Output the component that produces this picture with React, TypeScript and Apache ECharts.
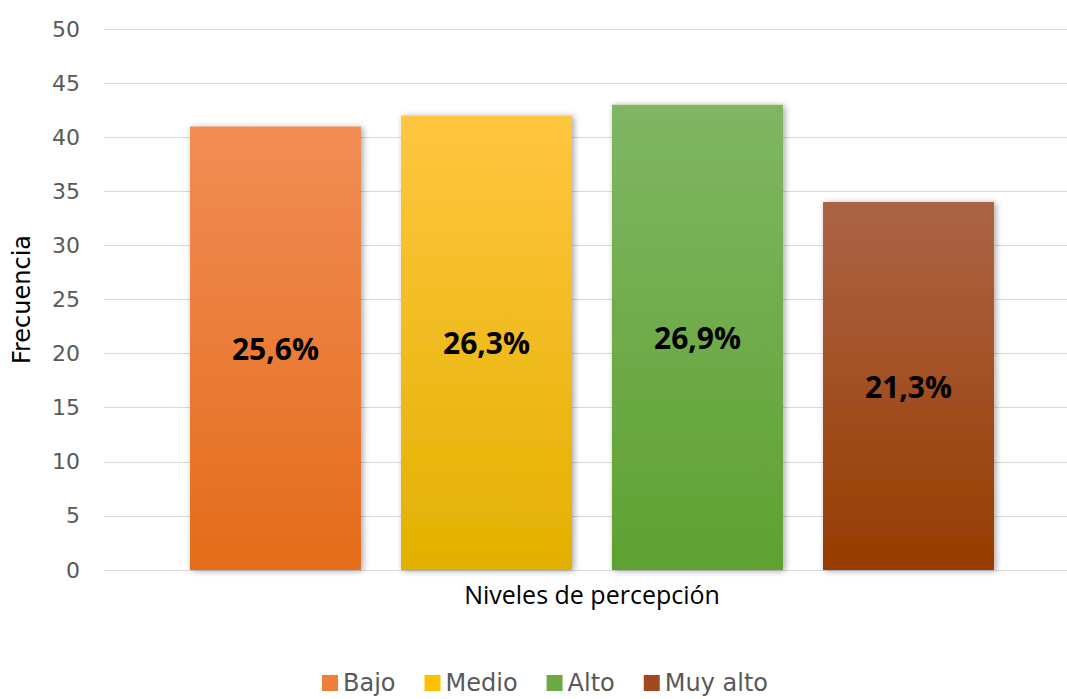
import React, { useEffect, useRef } from "react";
import * as echarts from "echarts";

const categories = ["Niveles de percepción"];
const seriesNames = ["Bajo", "Medio", "Alto", "Muy alto"];
const frequencies = [41, 42, 43, 34];
const percentLabels = ["25,6%", "26,3%", "26,9%", "21,3%"];
const yTicks = { min: 0, max: 50, interval: 5 };
const gradientStops: [string, string][] = [
  ["#F18D55", "#E46C1B"],
  ["#FFC640", "#E2B100"],
  ["#80B663", "#5FA131"],
  ["#AC6446", "#973C00"],
];
const legendColors = ["#F07F3A", "#FFC000", "#6DAA45", "#A24A1E"];

export default function App() {
  const ref = useRef<HTMLDivElement>(null);
  useEffect(() => {
    if (!ref.current) return;
    const chart = echarts.init(ref.current, undefined, { renderer: "svg" });
    const wide = "'DejaVu Sans', sans-serif";
    const narrow = "'Open Sans', 'Noto Sans', sans-serif";
    chart.setOption({
      animation: false,
      backgroundColor: "#ffffff",
      grid: { left: 104, right: 0, top: 29, bottom: 129, containLabel: false },
      legend: {
        top: 666,
        left: 317,
        itemWidth: 16,
        itemHeight: 16,
        itemGap: 29,
        icon: "rect",
        textStyle: { color: "#595959", fontSize: 24, fontFamily: wide },
        data: seriesNames.map((n, i) => ({ name: n, itemStyle: { color: legendColors[i] } })),
      },
      xAxis: {
        type: "category",
        data: categories,
        axisLine: { show: true, lineStyle: { color: "#d9d9d9", width: 1 } },
        axisTick: { show: false },
        axisLabel: { color: "#000000", fontSize: 25, fontFamily: narrow, margin: 11 },
      },
      yAxis: {
        type: "value",
        min: yTicks.min,
        max: yTicks.max,
        interval: yTicks.interval,
        name: "Frecuencia",
        nameLocation: "middle",
        nameGap: 70,
        nameTextStyle: { color: "#000000", fontSize: 24, fontFamily: wide },
        axisLine: { show: false },
        axisTick: { show: false },
        axisLabel: { color: "#595959", fontSize: 22, fontFamily: wide, margin: 24 },
        splitLine: { lineStyle: { color: "#d9d9d9", width: 1 } },
      },
      series: seriesNames.map((name, i) => ({
        name,
        type: "bar",
        barWidth: 171,
        barGap: "23.4%",
        data: [frequencies[i]],
        itemStyle: {
          color: new echarts.graphic.LinearGradient(0, 0, 0, 1, [
            { offset: 0, color: gradientStops[i][0] },
            { offset: 1, color: gradientStops[i][1] },
          ]),
          shadowColor: "rgba(0,0,0,0.35)",
          shadowBlur: 6,
          shadowOffsetX: 2,
          shadowOffsetY: 1,
        },
        label: {
          show: true,
          position: "inside",
          formatter: () => percentLabels[i],
          color: "#000000",
          fontSize: 30,
          fontWeight: "bold",
          fontFamily: narrow,
        },
      })),
    });
    return () => chart.dispose();
  }, []);
  return (
    <div style={{ position: "fixed", left: 0, top: 0, width: 1067, height: 699, overflow: "hidden" }}>
      <div ref={ref} style={{ position: "absolute", left: 0, top: 0, width: 1080, height: 699 }} />
    </div>
  );
}
